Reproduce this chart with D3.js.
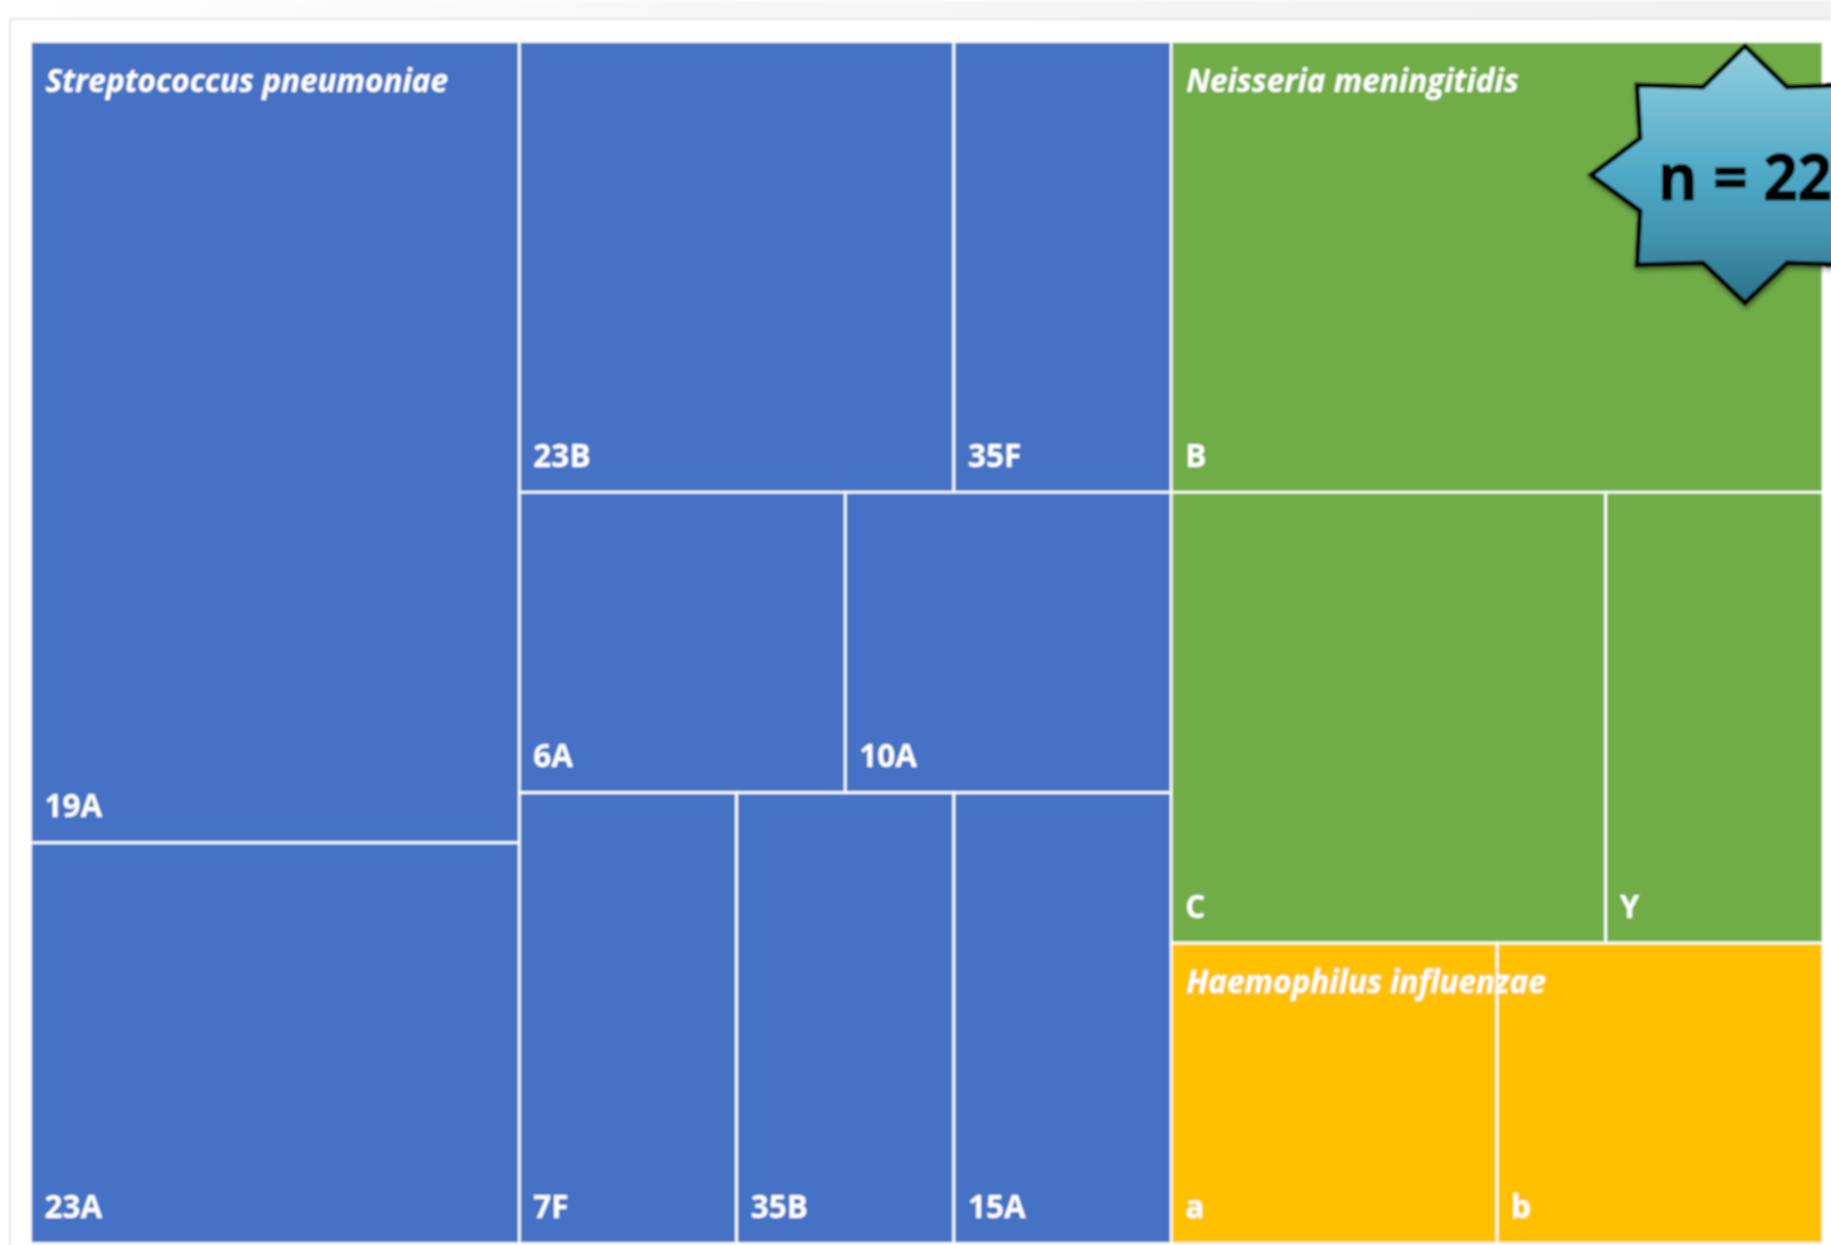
<!DOCTYPE html>
<html>
<head>
<meta charset="utf-8">
<script src="https://cdn.jsdelivr.net/npm/d3@7/dist/d3.min.js"></script>
<style>
html,body{margin:0;padding:0;background:#fff;overflow:hidden}
svg{display:block}
text{font-family:"Open Sans",sans-serif;fill:#fff}
</style>
</head>
<body>
<div id="chart"></div>
<script>
// Organism groups
const groupNames = ["Streptococcus pneumoniae", "Neisseria meningitidis", "Haemophilus influenzae"];
const groupColors = ["#4472c4", "#70ad47", "#ffc000"];
// Streptococcus pneumoniae serotypes (isolate counts)
const pnLeftLabels = ["19A", "23A"];
const pnLeftValues = [4, 2];
const pnRow1Labels = ["23B", "35F"];
const pnRow1Values = [2, 1];
const pnRow2Labels = ["6A", "10A"];
const pnRow2Values = [1, 1];
const pnRow3Labels = ["7F", "35B", "15A"];
const pnRow3Values = [1, 1, 1];
// Neisseria meningitidis serogroups
const nmTopLabels = ["B"];
const nmTopValues = [3];
const nmRowLabels = ["C", "Y"];
const nmRowValues = [2, 1];
// Haemophilus influenzae serotypes
const hiLabels = ["a", "b"];
const hiValues = [1, 1];
const totalLabel = "n = 22";

const W = 1831, H = 1245;
const leaves = (labels, values) => labels.map((name, i) => ({name, value: values[i]}));

const root = {split: "h", children: [
  {split: "h", group: 0, children: [
    {split: "v", children: leaves(pnLeftLabels, pnLeftValues)},
    {split: "v", children: [
      {split: "h", children: leaves(pnRow1Labels, pnRow1Values)},
      {split: "h", children: leaves(pnRow2Labels, pnRow2Values)},
      {split: "h", children: leaves(pnRow3Labels, pnRow3Values)}
    ]}
  ]},
  {split: "v", children: [
    {split: "v", group: 1, children: [
      ...leaves(nmTopLabels, nmTopValues),
      {split: "h", children: leaves(nmRowLabels, nmRowValues)}
    ]},
    {split: "h", group: 2, children: leaves(hiLabels, hiValues)}
  ]}
]};

const h = d3.hierarchy(root).sum(d => d.value || 0);
d3.treemap()
  .size([1792.5, 1202])
  .tile((node, x0, y0, x1, y1) =>
    (node.data.split === "h" ? d3.treemapDice : d3.treemapSlice)(node, x0, y0, x1, y1))(h);

const svg = d3.select("#chart").append("svg").attr("width", W).attr("height", H);
const defs = svg.append("defs");

const barGrad = defs.append("linearGradient").attr("id", "bar");
barGrad.append("stop").attr("offset", "0").attr("stop-color", "#ffffff");
barGrad.append("stop").attr("offset", "0.45").attr("stop-color", "#f6f6f6");
barGrad.append("stop").attr("offset", "1").attr("stop-color", "#f1f1f1");

const starGrad = defs.append("linearGradient").attr("id", "star")
  .attr("x1", 0).attr("x2", 0).attr("y1", 0).attr("y2", 1);
[["0", "#93cfe0"], ["0.5", "#4fa9c6"], ["0.72", "#4496b1"], ["1", "#2b7088"]].forEach(([o, c]) =>
  starGrad.append("stop").attr("offset", o).attr("stop-color", c));

const soft = defs.append("filter").attr("id", "soft")
  .attr("filterUnits", "userSpaceOnUse")
  .attr("x", -20).attr("y", -20).attr("width", W + 40).attr("height", H + 40);
soft.append("feGaussianBlur").attr("stdDeviation", 0.8);

const shadow = defs.append("filter").attr("id", "shadow")
  .attr("x", "-10%").attr("y", "-10%").attr("width", "120%").attr("height", "120%");
shadow.append("feDropShadow").attr("dx", 1).attr("dy", 3).attr("stdDeviation", 2.5)
  .attr("flood-color", "#000").attr("flood-opacity", 0.4);

// Page chrome
const page = svg.append("g").attr("filter", "url(#soft)");
page.append("rect").attr("x", 0).attr("y", 0).attr("width", W).attr("height", 18).attr("fill", "url(#bar)");
page.append("rect").attr("x", 9).attr("y", 18).attr("width", W - 9).attr("height", 2).attr("fill", "#e2e2e2");
page.append("rect").attr("x", 9).attr("y", 18).attr("width", 2).attr("height", H - 18).attr("fill", "#e6e6e6");

// Treemap
const plot = page.append("g").attr("transform", "translate(30.5,41.5)");

const groupOf = d => d.ancestors().find(a => a.data.group !== undefined).data.group;

plot.selectAll("rect.cell").data(h.leaves()).join("rect")
  .attr("class", "cell")
  .attr("x", d => d.x0).attr("y", d => d.y0)
  .attr("width", d => d.x1 - d.x0).attr("height", d => d.y1 - d.y0)
  .attr("fill", d => groupColors[groupOf(d)])
  .attr("stroke", "#fff").attr("stroke-width", 2.6);

plot.selectAll("text.leaf").data(h.leaves()).join("text")
  .attr("class", "leaf")
  .attr("x", d => d.x0 + 14).attr("y", d => d.y1 - 25.5)
  .attr("font-size", 31.5).attr("font-weight", 700)
  .text(d => d.data.name);

const groups = h.descendants().filter(d => d.data.group !== undefined);
plot.selectAll("text.group").data(groups).join("text")
  .attr("class", "group")
  .attr("x", d => d.x0 + 15).attr("y", d => d.y0 + 50)
  .attr("font-size", 31.5).attr("font-weight", 700).attr("font-style", "italic")
  .text(d => groupNames[d.data.group]);

// Star badge
const starPts = [[0,-129],[42,-88],[108,-90],[105,-37],[154,0],[105,36],[108,90],[42,88],
                 [0,128],[-42,88],[-108,90],[-105,36],[-154,0],[-105,-37],[-108,-90],[-42,-88]];
const badge = page.append("g").attr("transform", "translate(1745,175)");
badge.append("polygon")
  .attr("points", starPts.map(p => p.join(",")).join(" "))
  .attr("fill", "url(#star)").attr("stroke", "#000").attr("stroke-width", 5)
  .attr("stroke-linejoin", "miter").attr("filter", "url(#shadow)");
badge.append("text")
  .attr("x", -87).attr("y", 25)
  .attr("font-size", 64).attr("font-weight", 700)
  .attr("textLength", 174).attr("lengthAdjust", "spacingAndGlyphs")
  .style("fill", "#000").style("stroke", "#000").style("stroke-width", 1)
  .text(totalLabel);
</script>
</body>
</html>
